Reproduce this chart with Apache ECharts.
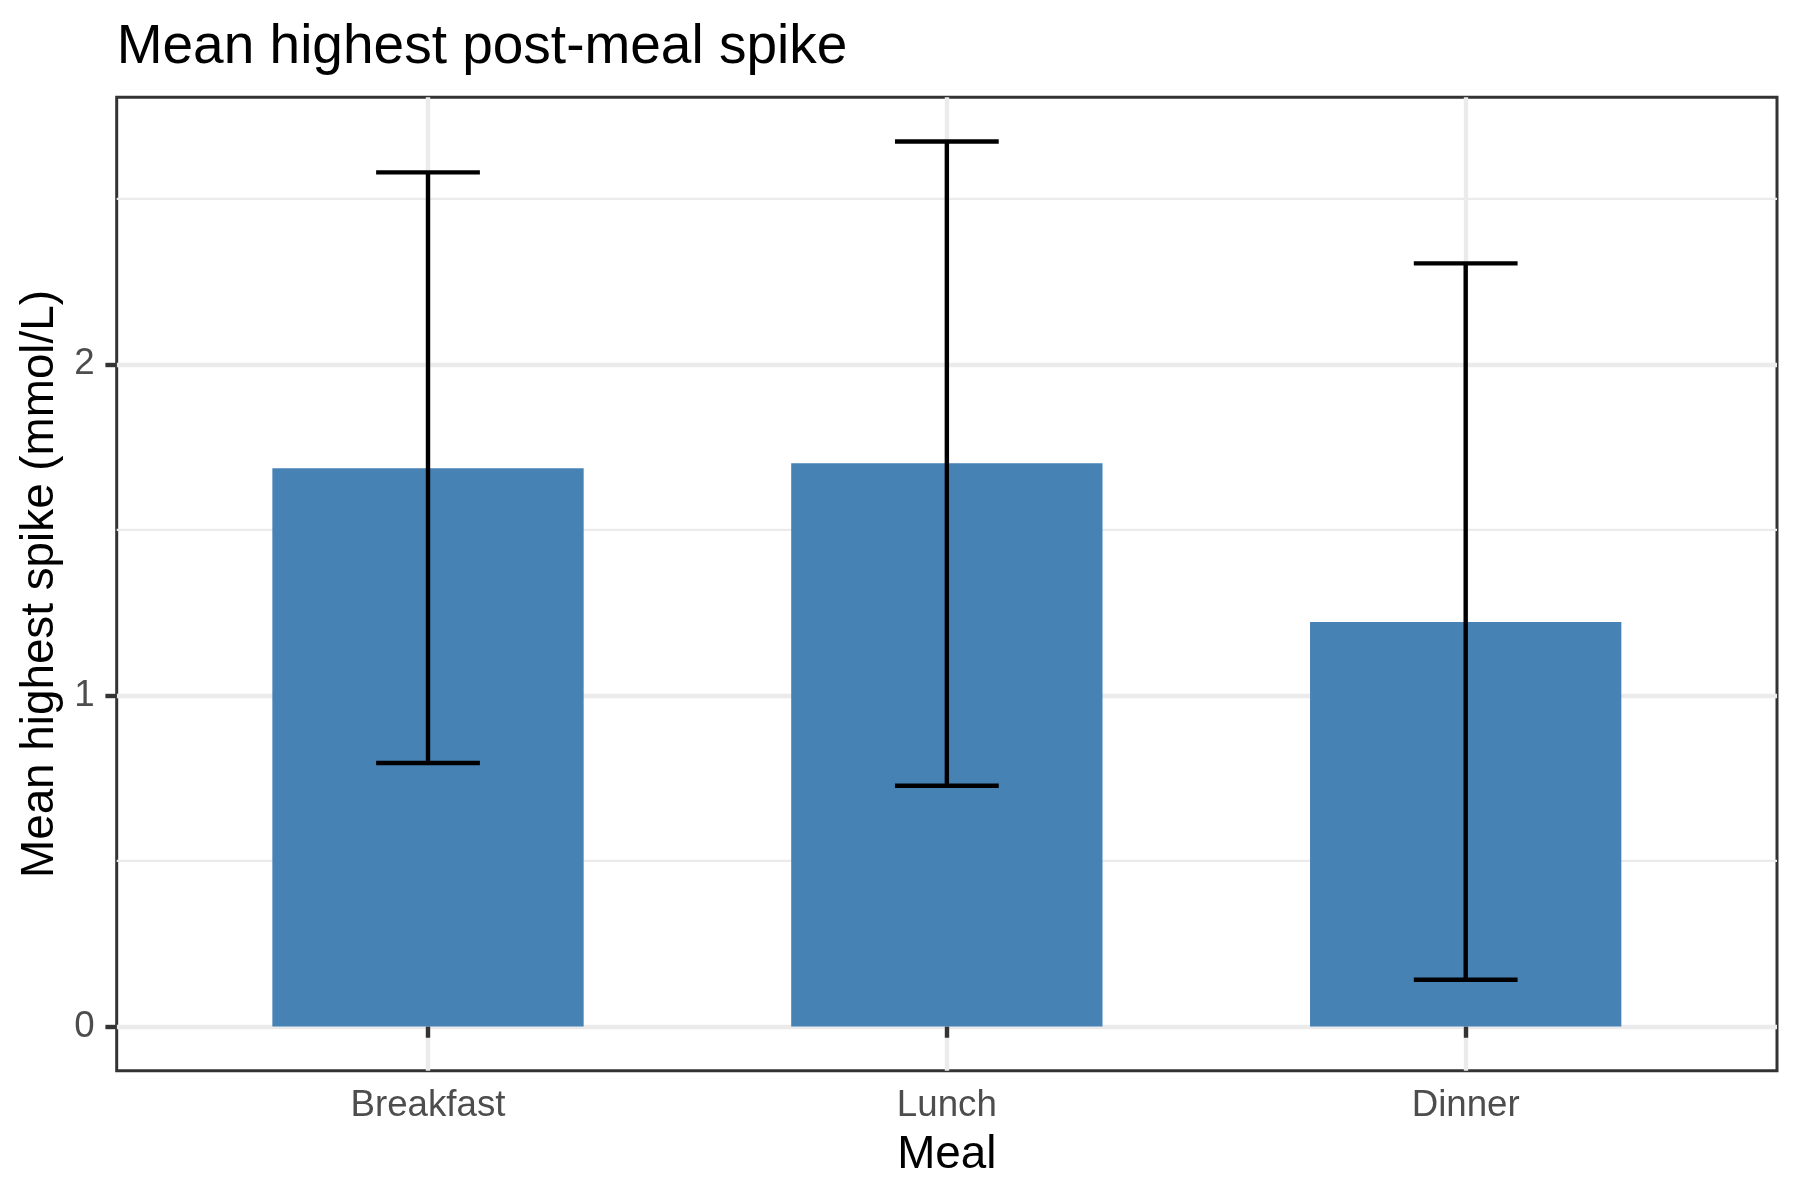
<!DOCTYPE html>
<html>
<head>
<meta charset="utf-8">
<script src="https://cdn.jsdelivr.net/npm/echarts@6/dist/echarts.min.js"></script>
<style>
html, body { margin: 0; padding: 0; background: #ffffff; }
#chart { width: 1800px; height: 1200px; }
</style>
</head>
<body>
<div id="chart"></div>
<script>
// ---- data ----
const categories = ['Breakfast', 'Lunch', 'Dinner'];
const meanSpike = [1.686, 1.701, 1.222];
const upperErr = [2.580, 2.673, 2.305];
const lowerErr = [0.796, 0.727, 0.141];
const yTicks = [0, 1, 2];
const yMinorTicks = [0.5, 1.5, 2.5];

// ---- style constants ----
const FONT = '"Liberation Sans", Arial, Helvetica, sans-serif';
const BAR_W = 0.6;
const ERR_W = 0.2;
const X_MIN = 0.4, X_MAX = categories.length + 0.6;
const yTop = Math.max(...upperErr);
const Y_MIN = -0.05 * yTop, Y_MAX = 1.05 * yTop;

const xPos = categories.map((c, i) => i + 1);
const barData = categories.map((c, i) => [xPos[i], meanSpike[i]]);
const errData = categories.map((c, i) => [xPos[i], lowerErr[i], upperErr[i]]);

const chart = echarts.init(document.getElementById('chart'), null, { renderer: 'canvas' });

chart.setOption({
  backgroundColor: '#ffffff',
  animation: false,
  textStyle: { fontFamily: FONT },
  title: {
    text: 'Mean highest post-meal spike',
    left: 116.7,
    top: 20.5,
    padding: 0,
    textStyle: { fontFamily: FONT, fontSize: 55, fontWeight: 'normal', color: '#000000' }
  },
  grid: {
    left: 116.7,
    top: 97.3,
    width: 1660.3,
    height: 973.4,
    show: true,
    borderColor: '#333333',
    borderWidth: 3,
    backgroundColor: 'transparent',
    containLabel: false
  },
  xAxis: {
    type: 'value',
    min: X_MIN,
    max: X_MAX,
    axisLine: { show: false },
    axisTick: {
      show: true,
      customValues: xPos,
      length: 11.3,
      lineStyle: { color: '#333333', width: 4.4 }
    },
    axisLabel: {
      show: true,
      customValues: xPos,
      formatter: v => categories[Math.round(v) - 1] || '',
      margin: 17,
      color: '#4D4D4D',
      fontSize: 36.7,
      fontFamily: FONT
    },
    splitLine: { show: true, lineStyle: { color: '#EBEBEB', width: 4.4 } },
    name: 'Meal',
    nameLocation: 'middle',
    nameGap: 62,
    nameTextStyle: { color: '#000000', fontSize: 45.8, fontFamily: FONT }
  },
  yAxis: {
    type: 'value',
    min: Y_MIN,
    max: Y_MAX,
    axisLine: { show: false },
    axisTick: {
      show: true,
      customValues: yTicks,
      length: 11.3,
      lineStyle: { color: '#333333', width: 4.4 }
    },
    axisLabel: {
      show: true,
      customValues: yTicks,
      formatter: v => String(v),
      margin: 22,
      color: '#4D4D4D',
      fontSize: 36.7,
      fontFamily: FONT
    },
    splitLine: { show: true, lineStyle: { color: '#EBEBEB', width: 4.4 } },
    name: 'Mean highest spike (mmol/L)',
    nameLocation: 'middle',
    nameGap: 49,
    nameTextStyle: { color: '#000000', fontSize: 45.8, fontFamily: FONT }
  },
  series: [
    {
      type: 'custom',
      name: 'minorGrid',
      z: 1,
      silent: true,
      data: yMinorTicks.map(v => [v]),
      renderItem: function (params, api) {
        const v = api.value(0);
        const a = api.coord([X_MIN, v]);
        const b = api.coord([X_MAX, v]);
        return {
          type: 'line',
          shape: { x1: a[0], y1: a[1], x2: b[0], y2: b[1] },
          style: { stroke: '#EBEBEB', lineWidth: 2.2 }
        };
      }
    },
    {
      type: 'custom',
      name: 'bars',
      z: 3,
      data: barData,
      renderItem: function (params, api) {
        const x = api.value(0), v = api.value(1);
        const p1 = api.coord([x - BAR_W / 2, v]);
        const p2 = api.coord([x + BAR_W / 2, 0]);
        return {
          type: 'rect',
          shape: { x: p1[0], y: p1[1], width: p2[0] - p1[0], height: p2[1] - p1[1] },
          style: { fill: '#4682B4' }
        };
      }
    },
    {
      type: 'custom',
      name: 'errorbars',
      z: 4,
      data: errData,
      renderItem: function (params, api) {
        const x = api.value(0), lo = api.value(1), hi = api.value(2);
        const tl = api.coord([x - ERR_W / 2, hi]);
        const tr = api.coord([x + ERR_W / 2, hi]);
        const bl = api.coord([x - ERR_W / 2, lo]);
        const br = api.coord([x + ERR_W / 2, lo]);
        const mt = api.coord([x, hi]);
        const mb = api.coord([x, lo]);
        const st = { stroke: '#000000', lineWidth: 4.4, lineCap: 'butt' };
        return {
          type: 'group',
          children: [
            { type: 'line', shape: { x1: tl[0], y1: tl[1], x2: tr[0], y2: tr[1] }, style: st },
            { type: 'line', shape: { x1: mt[0], y1: mt[1], x2: mb[0], y2: mb[1] }, style: st },
            { type: 'line', shape: { x1: bl[0], y1: bl[1], x2: br[0], y2: br[1] }, style: st }
          ]
        };
      }
    }
  ]
});
</script>
</body>
</html>
